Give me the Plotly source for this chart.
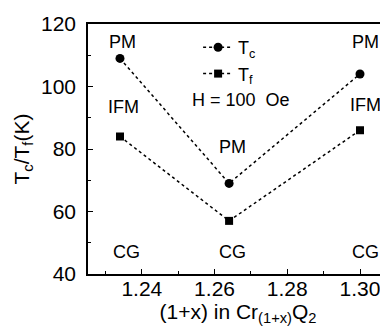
import plotly.graph_objects as go

# Data
x_vals = [1.234, 1.264, 1.300]
tc_vals = [109, 69, 104]
tf_vals = [84, 57, 86]

# Phase labels
phase_text = ["PM", "IFM", "CG", "PM", "CG", "PM", "IFM", "CG"]
phase_x = [1.2346, 1.2349, 1.2357, 1.2649, 1.2649, 1.3014, 1.3014, 1.3014]
phase_y = [114.3, 93.5, 47.1, 80.7, 47.1, 114.3, 94.1, 47.1]

x_ticks = [1.24, 1.26, 1.28, 1.30]
y_ticks = [40, 60, 80, 100, 120]

FONT = "Arial, Liberation Sans, Arimo, sans-serif"

fig = go.Figure()
fig.add_trace(go.Scatter(
    x=x_vals, y=tc_vals, mode="lines+markers", name="T<sub>c</sub>",
    line=dict(color="black", width=1.5, dash="dot"),
    marker=dict(symbol="circle", size=9, color="black"),
))
fig.add_trace(go.Scatter(
    x=x_vals, y=tf_vals, mode="lines+markers", name="T<sub>f</sub>",
    line=dict(color="black", width=1.5, dash="dot"),
    marker=dict(symbol="square", size=8, color="black"),
))

for t, xx, yy in zip(phase_text, phase_x, phase_y):
    fig.add_annotation(x=xx, y=yy, text=t, showarrow=False,
                       font=dict(family=FONT, size=18, color="black"),
                       xanchor="center", yanchor="middle")

fig.add_annotation(xref="paper", yref="paper", x=0.34, y=0.696,
                   text="H = 100\u00a0 Oe", showarrow=False,
                   xanchor="left", yanchor="middle",
                   font=dict(family=FONT, size=18, color="black"))

fig.update_layout(
    width=380, height=326,
    margin=dict(l=80, r=0, t=16, b=60),
    paper_bgcolor="white", plot_bgcolor="white",
    font=dict(family=FONT, size=21, color="black"),
    showlegend=True,
    legend=dict(x=0.367, y=0.98, xanchor="left", yanchor="top",
                bgcolor="rgba(0,0,0,0)", font=dict(family=FONT, size=18),
                tracegroupgap=0),
)
fig.update_xaxes(
    range=[1.2252, 1.3077], tickvals=x_ticks, ticktext=[f"{v:.2f}" for v in x_ticks],
    ticks="inside", ticklen=5, tickwidth=1.3, tickcolor="black",
    minor=dict(dtick=0.01, tick0=1.23, ticks="inside", ticklen=3, tickcolor="black", tickwidth=1.3),
    showline=True, linecolor="black", linewidth=1.5, mirror=True,
    showgrid=False, zeroline=False,
    tickfont=dict(family=FONT, size=21),
    ticklabelstandoff=-5,
    title=dict(text="(1+x) in Cr<sub>(1+x)</sub>Q<sub>2</sub>", font=dict(family=FONT, size=21), standoff=3),
)
fig.update_yaxes(
    range=[40, 120], tickvals=y_ticks,
    ticks="inside", ticklen=5, tickwidth=1.3, tickcolor="black",
    minor=dict(dtick=10, tick0=40, ticks="inside", ticklen=3, tickcolor="black", tickwidth=1.3),
    showline=True, linecolor="black", linewidth=1.5, mirror=False,
    showgrid=False, zeroline=False,
    tickfont=dict(family=FONT, size=21),
    ticklabelstandoff=6,
    title=dict(text="T<sub>c</sub>/T<sub>f</sub>(K)", font=dict(family=FONT, size=21), standoff=6),
)

fig.write_html("out.html")
